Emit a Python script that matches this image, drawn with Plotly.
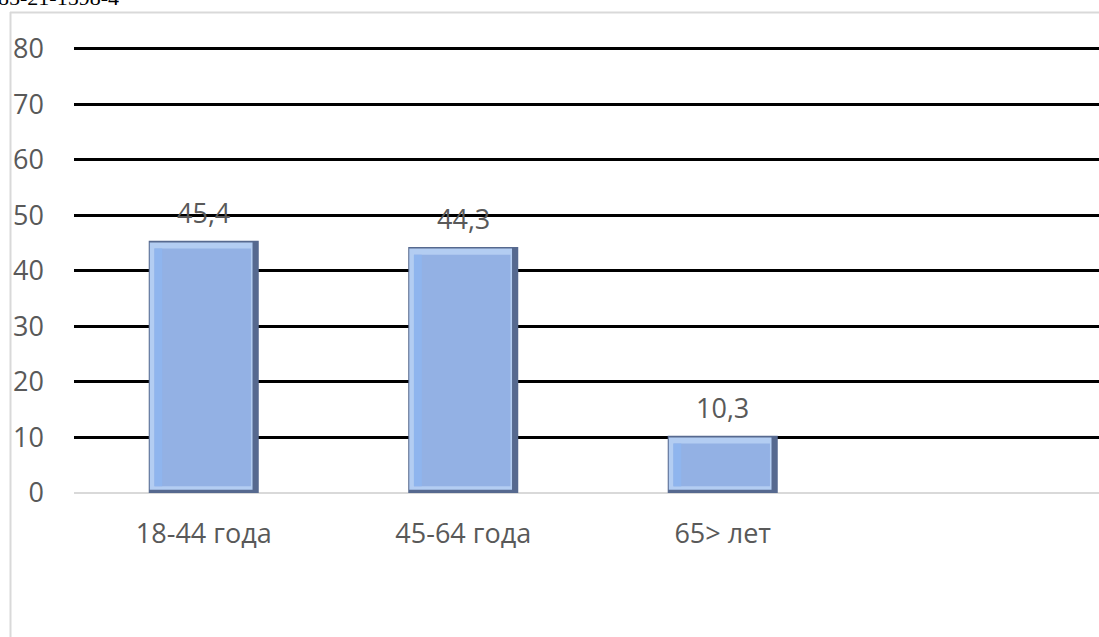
import plotly.graph_objects as go

categories = ["18-44 года", "45-64 года", "65> лет"]
values = [45.4, 44.3, 10.3]
labels = ["45,4", "44,3", "10,3"]
y_ticks = [0, 10, 20, 30, 40, 50, 60, 70, 80]

W, H = 1099, 637
L, R, T, B = 74, 0, 43, 144
xs = list(range(len(categories)))
FS = 27

BW = 0.424
fig = go.Figure()
# outer dark frame
fig.add_trace(go.Bar(x=xs, y=values, width=BW, offset=-BW / 2,
                     marker=dict(color="#56698F", line=dict(width=0)), hoverinfo="skip"))
# light top/left bevel
fig.add_trace(go.Bar(x=xs, y=[v - 0.9 for v in values], base=0.6, width=BW - 0.028,
                     offset=-BW / 2 + 0.004,
                     marker=dict(color="#B3CDF2", line=dict(width=0)), hoverinfo="skip"))
# main face
fig.add_trace(go.Bar(x=xs, y=[v - 2.6 for v in values], base=1.2, width=BW - 0.052,
                     offset=-BW / 2 + 0.022,
                     marker=dict(color="#93B1E4", line=dict(width=0)), hoverinfo="skip"))
# left light strip
fig.add_trace(go.Bar(x=xs, y=[v - 2.6 for v in values], base=1.2, width=0.03,
                     offset=-BW / 2 + 0.022,
                     marker=dict(color="#8FB5EE", line=dict(width=0)), hoverinfo="skip"))

for x, v, t in zip(xs, values, labels):
    fig.add_annotation(x=x, y=v, text=t, showarrow=False, yanchor="bottom", yshift=8,
                       font=dict(family="Open Sans", size=FS, color="#595959"))

px = lambda p: (p - L) / (W - L - R)
py = lambda p: (H - B - p) / (H - T - B)

# text at top-left (cut off by the page edge, as in the source)
fig.add_annotation(xref="paper", yref="paper", x=px(-4), y=py(12),
                   text="85-21-1598-4", showarrow=False, xanchor="left", yanchor="bottom",
                   font=dict(family="Liberation Serif", size=22, color="#000000"))

fig.add_shape(type="line", xref="paper", yref="paper", x0=px(10.5), x1=px(10.5), y0=py(12), y1=py(660),
              line=dict(color="#D9D9D9", width=2))
fig.add_shape(type="line", xref="paper", yref="paper", x0=px(10), x1=px(1120), y0=py(12.5), y1=py(12.5),
              line=dict(color="#D9D9D9", width=2))

fig.update_layout(
    width=W, height=H, margin=dict(l=L, r=R, t=T, b=B, pad=0),
    paper_bgcolor="white", plot_bgcolor="white", barmode="overlay", showlegend=False,
    font=dict(family="Open Sans", size=FS, color="#595959"),
    xaxis=dict(range=[-0.5, 3.45], tickvals=xs, ticktext=categories, showgrid=False,
               zeroline=False, showline=False, ticks="", ticklabelstandoff=22,
               tickfont=dict(family="Open Sans", size=FS, color="#595959"), fixedrange=True),
    yaxis=dict(range=[0, 81], tickvals=y_ticks, showgrid=True, gridcolor="#000000", gridwidth=2.5,
               zeroline=True, zerolinecolor="#D9D9D9", zerolinewidth=2, showline=False, ticks="",
               ticklabelstandoff=29, tickfont=dict(family="Open Sans", size=FS, color="#595959"),
               fixedrange=True),
)

fig.write_html("out.html")
